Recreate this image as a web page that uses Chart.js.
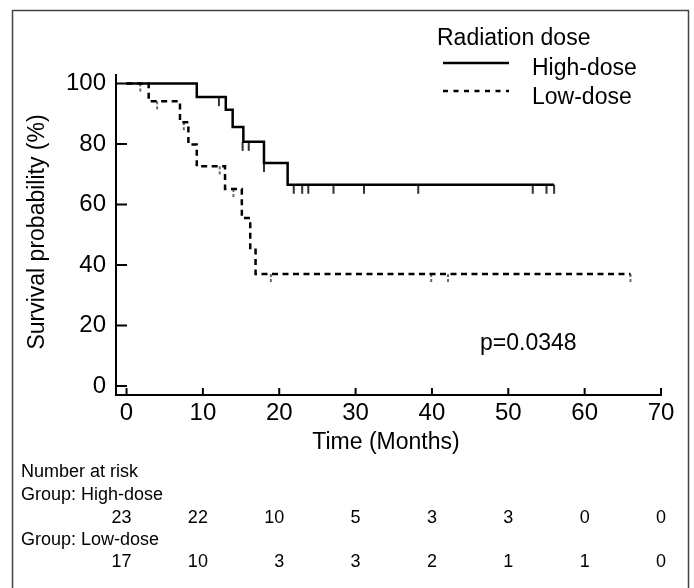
<!doctype html>
<html lang="en">
  <head>
    <meta charset="utf-8">
    <title>Survival by radiation dose</title>
    <style>
      * {
        margin: 0;
        padding: 0;
      }
      body {
        background: white;
      }
      .chartBox {
        width: 694px;
        height: 588px;
      }
    </style>
  </head>
  <body>
    <div class="chartBox">
      <canvas id="myChart" width="694" height="588"></canvas>
    </div>
    <script type="text/javascript" src="https://cdn.jsdelivr.net/npm/chart.js"></script>
    <script>
    // data
    const highTimes = [0, 9.2, 13.0, 13.9, 15.3, 18.0, 21.1, 56.0];
    const highSurv  = [100, 95.5, 91.3, 85.6, 80.7, 73.7, 66.5, 66.5];
    const highCensorTimes = [12.1, 15.2, 16.0, 18.0, 21.9, 23.0, 23.8, 27.1, 31.1, 38.2, 53.2, 55.0, 56.0];
    const highCensorSurv  = [95.5, 80.7, 80.7, 73.7, 66.5, 66.5, 66.5, 66.5, 66.5, 66.5, 66.5, 66.5, 66.5];

    const lowTimes = [0, 2.9, 7.0, 8.1, 9.2, 12.9, 15.1, 16.2, 16.9, 66.0];
    const lowSurv  = [100, 94.1, 87.2, 79.8, 72.6, 65.1, 55.5, 45.6, 37.0, 37.0];
    const lowCensorTimes = [1.8, 4.0, 7.5, 12.2, 14.0, 18.9, 39.9, 42.1, 66.0];
    const lowCensorSurv  = [100, 94.1, 87.2, 72.6, 65.1, 37.0, 37.0, 37.0, 37.0];

    const xTicks = [0, 10, 20, 30, 40, 50, 60, 70];
    const yTicks = [0, 20, 40, 60, 80, 100];

    const riskTimes = [0, 10, 20, 30, 40, 50, 60, 70];
    const riskHigh = [23, 22, 10, 5, 3, 3, 0, 0];
    const riskLow  = [17, 10, 3, 3, 2, 1, 1, 0];

    const FONT = "'Liberation Sans', Arial, Helvetica, sans-serif";

    function toPoints(xs, ys) {
      return xs.map((x, i) => ({ x: x, y: ys[i] }));
    }

    // small downward tick used as censor mark
    function censorMark(dashed) {
      const c = document.createElement('canvas');
      c.width = 4;
      c.height = 20;
      const g = c.getContext('2d');
      if (dashed) {
        g.fillStyle = '#444';
        g.fillRect(1.2, 10, 1.6, 3);
        g.fillRect(1.2, 15, 1.6, 3);
      } else {
        g.fillStyle = '#333';
        g.fillRect(1, 10, 2, 9);
      }
      return c;
    }

    function text(ctx, str, x, y, size, align) {
      ctx.font = size + 'px ' + FONT;
      ctx.textAlign = align || 'left';
      ctx.textBaseline = 'alphabetic';
      ctx.fillStyle = '#000';
      ctx.fillText(str, x, y);
    }

    // axes ticks pointing inward, legend, titles, number at risk
    const extras = {
      id: 'extras',
      afterDraw(chart) {
        const ctx = chart.ctx;
        const xs = chart.scales.x;
        const ys = chart.scales.y;
        const area = chart.chartArea;
        ctx.save();

        // frame
        ctx.strokeStyle = '#444';
        ctx.lineWidth = 1.5;
        ctx.strokeRect(12.5, 10.5, 676, 620);

        // inward ticks
        ctx.strokeStyle = '#000';
        ctx.lineWidth = 2;
        ctx.beginPath();
        yTicks.forEach(v => {
          const y = ys.getPixelForValue(v);
          ctx.moveTo(area.left, y);
          ctx.lineTo(area.left + 11, y);
        });
        xTicks.forEach(v => {
          const x = xs.getPixelForValue(v);
          ctx.moveTo(x, area.bottom);
          ctx.lineTo(x, area.bottom - 7);
        });
        ctx.stroke();

        // axis titles
        text(ctx, 'Time (Months)', 386, 449, 23, 'center');
        ctx.save();
        ctx.translate(44, 232);
        ctx.rotate(-Math.PI / 2);
        text(ctx, 'Survival probability (%)', 0, 0, 23, 'center');
        ctx.restore();

        // p value
        text(ctx, 'p=0.0348', 480, 350, 23, 'left');

        // legend
        text(ctx, 'Radiation dose', 437, 45, 23, 'left');
        text(ctx, 'High-dose', 532, 75, 23, 'left');
        text(ctx, 'Low-dose', 532, 104, 23, 'left');
        ctx.lineWidth = 2.5;
        ctx.beginPath();
        ctx.moveTo(443, 63);
        ctx.lineTo(509, 63);
        ctx.stroke();
        ctx.setLineDash([5, 5.5]);
        ctx.beginPath();
        ctx.moveTo(443, 91);
        ctx.lineTo(509, 91);
        ctx.stroke();
        ctx.setLineDash([]);

        // number at risk
        text(ctx, 'Number at risk', 21, 477, 18, 'left');
        text(ctx, 'Group: High-dose', 21, 500, 18, 'left');
        text(ctx, 'Group: Low-dose', 21, 545, 18, 'left');
        riskTimes.forEach((t, i) => {
          const x = xs.getPixelForValue(t) + 5;
          text(ctx, String(riskHigh[i]), x, 523, 18, 'right');
          text(ctx, String(riskLow[i]), x, 567, 18, 'right');
        });

        ctx.restore();
      }
    };

    // setup
    const data = {
      datasets: [
        {
          label: 'High-dose',
          data: toPoints(highTimes, highSurv),
          stepped: true,
          borderColor: '#000',
          borderWidth: 2.5,
          pointRadius: 0,
          fill: false
        },
        {
          label: 'Low-dose',
          data: toPoints(lowTimes, lowSurv),
          stepped: true,
          borderColor: '#000',
          borderWidth: 2.5,
          borderDash: [6, 4.5],
          pointRadius: 0,
          fill: false
        },
        {
          type: 'scatter',
          label: 'High-dose censored',
          data: toPoints(highCensorTimes, highCensorSurv),
          pointStyle: censorMark(false),
          pointRadius: 5
        },
        {
          type: 'scatter',
          label: 'Low-dose censored',
          data: toPoints(lowCensorTimes, lowCensorSurv),
          pointStyle: censorMark(true),
          pointRadius: 5
        }
      ]
    };

    // config
    const config = {
      type: 'line',
      data,
      options: {
        responsive: false,
        animation: false,
        devicePixelRatio: 1,
        layout: {
          padding: { top: 75, right: 33, left: 0, bottom: 0 }
        },
        plugins: {
          legend: { display: false },
          tooltip: { enabled: false }
        },
        scales: {
          x: {
            type: 'linear',
            min: -1.38,
            max: 70,
            grid: { display: false, drawTicks: false },
            border: { display: true, color: '#000', width: 2 },
            ticks: {
              color: '#000',
              padding: 4,
              font: { family: FONT, size: 24 }
            },
            afterBuildTicks(scale) {
              scale.ticks = xTicks.map(v => ({ value: v }));
            },
            afterFit(scale) {
              scale.height = 193;
            }
          },
          y: {
            type: 'linear',
            min: -3,
            max: 102.8,
            grid: { display: false, drawTicks: false },
            border: { display: true, color: '#000', width: 2 },
            ticks: {
              color: '#000',
              padding: 10,
              font: { family: FONT, size: 24 }
            },
            afterBuildTicks(scale) {
              scale.ticks = yTicks.map(v => ({ value: v }));
            },
            afterFit(scale) {
              scale.width = 116;
            }
          }
        }
      },
      plugins: [extras]
    };

    // render
    const myChart = new Chart(
      document.getElementById('myChart'),
      config
    );
    </script>
  </body>
</html>
